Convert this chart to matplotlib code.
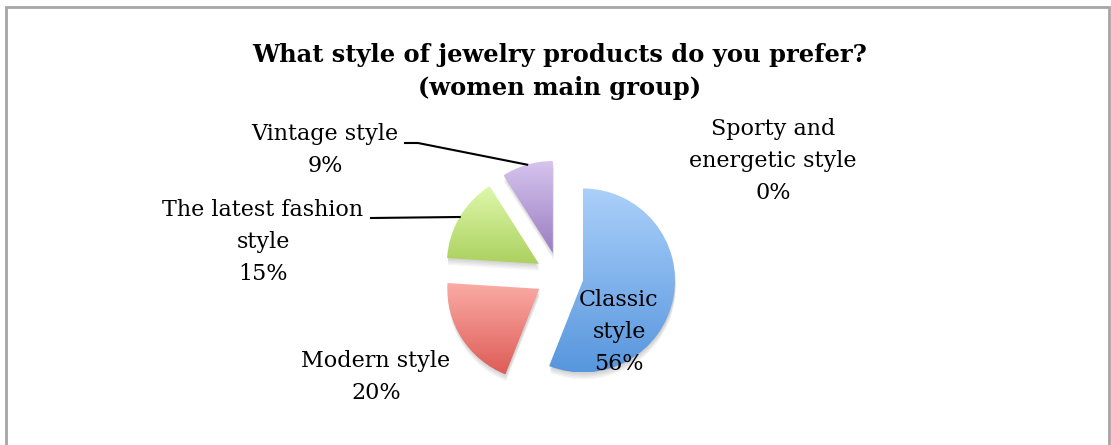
import numpy as np
import matplotlib.pyplot as plt
import matplotlib.patheffects as pe
from matplotlib.colors import LinearSegmentedColormap
from matplotlib.patches import Rectangle

# Survey answers (women main group)
categories = ["Classic\nstyle", "Modern style", "The latest fashion\nstyle",
              "Vintage style", "Sporty and\nenergetic style"]
shares = [56, 20, 15, 9, 0]

# top / bottom colours of each slice gradient
top_colors = ["#abd0fa", "#fbaca6", "#def8ac", "#d6c4ee", "#f0c070"]
bottom_colors = ["#5796dd", "#de5c56", "#abd15e", "#9a7ec2", "#d89a30"]

W, H = 1111, 445
plt.rcParams["font.family"] = ["DejaVu Serif"]

fig = plt.figure(figsize=(W / 100, H / 100), dpi=100)

# chart frame
fig.patches.append(Rectangle((6 / W, -0.1), (W - 8) / W, 1.1 - 7 / H,
                             transform=fig.transFigure, fill=False,
                             edgecolor="#a6a6a6", linewidth=2))

fig.text(560 / W, 1 - 55 / H, "What style of jewelry products do you prefer?",
         ha="center", va="center", fontsize=17.4, fontweight="bold")
fig.text(560 / W, 1 - 88 / H, "(women main group)",
         ha="center", va="center", fontsize=17.4, fontweight="bold")

# pie axes: 1 data unit = 92 px, centred at (559.5, 276) px
R = 92
cx, cy = 559.5, 276
ax = fig.add_axes([(cx - 2 * R) / W, (H - cy - 2 * R) / H, 4 * R / W, 4 * R / H])
ax.set_xlim(-2, 2)
ax.set_ylim(-2, 2)
ax.set_aspect("equal")
ax.axis("off")

# soft shadow under the slices
shadow = [pe.SimplePatchShadow(offset=(0.5, -k), shadow_rgbFace="black", alpha=0.035)
          for k in (1, 2, 3, 4, 5)]

wedges, _ = ax.pie(shares, radius=1, startangle=90, counterclock=False,
                   explode=[0.26] * len(shares),
                   wedgeprops=dict(edgecolor="none"))

# vertical gradient fill for every slice
grad = np.linspace(0, 1, 256).reshape(-1, 1)
for w, c0, c1, v in zip(wedges, top_colors, bottom_colors, shares):
    if v == 0:
        w.set_visible(False)
        continue
    w.set_facecolor("white")
    w.set_path_effects(shadow)
    bb = w.get_path().get_extents(w.get_patch_transform())
    cmap = LinearSegmentedColormap.from_list("g", [c1, c0])
    im = ax.imshow(grad, cmap=cmap, origin="lower", aspect="auto",
                   extent=[bb.x0, bb.x1, bb.y0, bb.y1], zorder=2)
    im.set_clip_path(w)
ax.set_xlim(-2, 2)
ax.set_ylim(-2, 2)


def arc_point(w):
    mid = np.deg2rad((w.theta1 + w.theta2) / 2)
    return w.center[0] + w.r * np.cos(mid), w.center[1] + w.r * np.sin(mid)


def to_fig(x, y):
    return fig.transFigure.inverted().transform(ax.transData.transform((x, y)))


# text labels, positions in pixels
label_pos = [(619, 332), (376, 377), (263, 242), (325, 150), (773, 161)]
for name, v, (lx, ly) in zip(categories, shares, label_pos):
    fig.text(lx / W, 1 - ly / H, f"{name}\n{v}%", ha="center", va="center",
             fontsize=16, linespacing=1.6, zorder=5)

# leader lines for the two small slices on the left
ex, ey = to_fig(*arc_point(wedges[3]))
fig.add_artist(plt.Line2D([405 / W, 418 / W, ex], [1 - 143 / H, 1 - 143 / H, ey],
                          color="black", linewidth=1.5))
ex, ey = to_fig(*arc_point(wedges[2]))
fig.add_artist(plt.Line2D([371 / W, ex], [1 - 218 / H, ey],
                          color="black", linewidth=1.5))

fig.savefig("out.png", dpi=100, facecolor="white")
